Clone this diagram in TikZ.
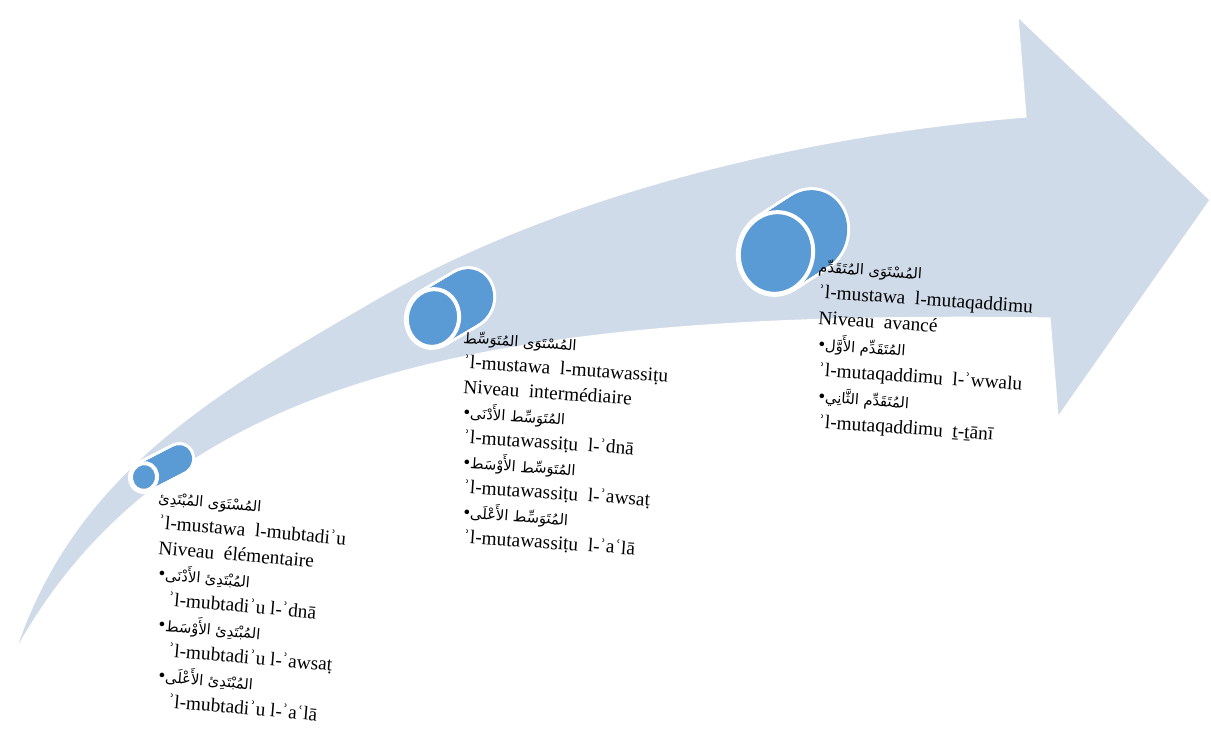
\documentclass[tikz,border=0pt]{standalone}
\usepackage{fontspec}
\setmainfont{Liberation Serif}
\newfontfamily\arabicfont[Script=Arabic]{DejaVu Sans}
\TeXXeTstate=1
\usetikzlibrary{positioning}
\definecolor{bandblue}{RGB}{208,219,234}
\definecolor{cylblue}{RGB}{91,155,213}
\newcommand{\arline}[1]{{\arabicfont\fontsize{12.5}{15}\selectfont\beginR #1\endR}}

\begin{document}
\begin{tikzpicture}[x=0.03cm,y=-0.03cm,
    lvltext/.style={anchor=base west, inner sep=0pt,
      font=\fontsize{16.5}{20}\selectfont}]
    \useasboundingbox (0,0) rectangle (1211,731);

    % bent arrow
    \fill[bandblue, draw=white, line width=1pt]
      (15,652) .. controls (75,470) and (220,390) .. (380,297)
      .. controls (560,195) and (800,135) .. (1026,117)
      -- (1018,17) -- (1210,200) -- (1058,417) -- (1050,318)
      .. controls (500,310) and (170,370) .. (15,652) -- cycle;

    % cylinders
    \foreach \cx/\cy/\rx/\ry/\dx/\dy in {144/477/13/14/35/-18, 433/318/26/29/34/-20, 776/253/37/41/34/-22}{
      \foreach \k in {0,...,24}
        \fill[white, shift={(\cx+\k*\dx/24,\cy+\k*\dy/24)}, rotate=-12] (0,0) ellipse ({\rx+3} and {\ry+3});
      \foreach \k in {0,...,24}
        \fill[cylblue, shift={(\cx+\k*\dx/24,\cy+\k*\dy/24)}, rotate=-12] (0,0) ellipse ({\rx} and {\ry});
      \filldraw[cylblue, draw=white, line width=3.4pt, shift={(\cx,\cy)}, rotate=-12] (0,0) ellipse ({\rx} and {\ry});
    }

    % level texts, one line at a time
    \foreach \t [count=\i] in {
      \arline{المُسْتَوَى المُبْتَدِئ},
      ʾl-mustawa\ \ l-mubtadiʾu,
      Niveau\ \ élémentaire,
      •\arline{المُبْتَدِئ الأَدْنَى},
      \hspace*{0.28cm}ʾl-mubtadiʾu l-ʾdnā,
      •\arline{المُبْتَدِئ الأَوْسَط},
      \hspace*{0.28cm}ʾl-mubtadiʾu l-ʾawsaṭ,
      •\arline{المُبْتَدِئ الأَعْلَى},
      \hspace*{0.28cm}ʾl-mubtadiʾu l-ʾaʿlā}
      \node[lvltext, rotate=-5] (lvlA-\i) at (158,{503+25.5*(\i-1)}) {\t};

    \foreach \t [count=\i] in {
      \arline{المُسْتَوَى المُتَوَسِّط},
      ʾl-mustawa\ \ l-mutawassiṭu,
      Niveau\ \ intermédiaire,
      •\arline{المُتَوَسِّط الأَدْنَى},
      ʾl-mutawassiṭu\ \ l-ʾdnā,
      •\arline{المُتَوَسِّط الأَوْسَط},
      ʾl-mutawassiṭu\ \ l-ʾawsaṭ,
      •\arline{المُتَوَسِّط الأَعْلَى},
      ʾl-mutawassiṭu\ \ l-ʾaʿlā}
      \node[lvltext, rotate=-4] (lvlB-\i) at (463,{343+25*(\i-1)}) {\t};

    \foreach \t [count=\i] in {
      \arline{المُسْتَوَى المُتَقَدِّم},
      ʾl-mustawa\ \ l-mutaqaddimu,
      Niveau\ \ avancé,
      •\arline{المُتَقَدِّم الأَوَّل},
      ʾl-mutaqaddimu\ \ l-ʾwwalu,
      •\arline{المُتَقَدِّم الثَّانِي},
      ʾl-mutaqaddimu\ \ ṯ-ṯānī}
      \node[lvltext, rotate=-4] (lvlC-\i) at (818,{272+26*(\i-1)}) {\t};
\end{tikzpicture}
\end{document}
